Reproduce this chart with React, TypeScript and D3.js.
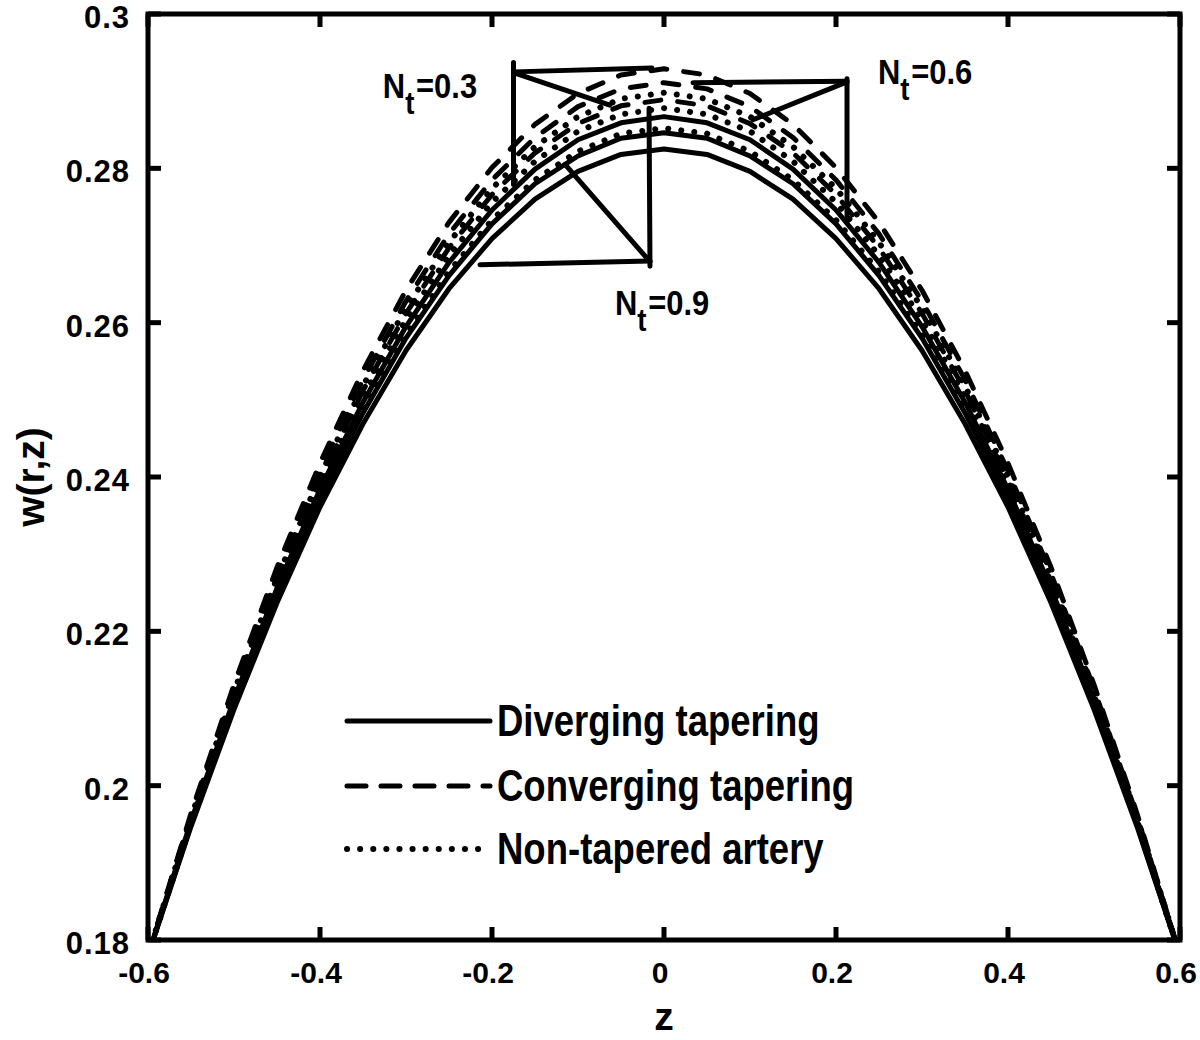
import { useEffect, useRef } from 'react'
import * as d3 from 'd3'

// axial positions of the computed points
const zValues = [
  -0.6, -0.55, -0.5, -0.45, -0.4, -0.35, -0.3, -0.25, -0.2, -0.15, -0.1, -0.05, 0,
  0.05, 0.1, 0.15, 0.2, 0.25, 0.3, 0.35, 0.4, 0.45, 0.5, 0.55, 0.6,
]

// diverging tapering (solid)
const divergingNt09 = [0.178, 0.1947, 0.2099, 0.2237, 0.2361, 0.2469, 0.2564, 0.2644, 0.2709, 0.276, 0.2796, 0.2818, 0.2825, 0.2818, 0.2796, 0.276, 0.2709, 0.2644, 0.2564, 0.2469, 0.2361, 0.2237, 0.2099, 0.1947, 0.178]
const divergingNt06 = [0.178, 0.195, 0.2106, 0.2246, 0.2372, 0.2483, 0.258, 0.2661, 0.2728, 0.278, 0.2816, 0.2839, 0.2846, 0.2839, 0.2816, 0.278, 0.2728, 0.2661, 0.258, 0.2483, 0.2372, 0.2246, 0.2106, 0.195, 0.178]
const divergingNt03 = [0.178, 0.1954, 0.2112, 0.2256, 0.2384, 0.2497, 0.2595, 0.2678, 0.2746, 0.2799, 0.2837, 0.2859, 0.2867, 0.2859, 0.2837, 0.2799, 0.2746, 0.2678, 0.2595, 0.2497, 0.2384, 0.2256, 0.2112, 0.1954, 0.178]

// non-tapered artery (dotted)
const nonTaperedNt09 = [0.178, 0.1951, 0.2108, 0.2249, 0.2376, 0.2487, 0.2584, 0.2666, 0.2733, 0.2785, 0.2822, 0.2845, 0.2852, 0.2845, 0.2822, 0.2785, 0.2733, 0.2666, 0.2584, 0.2487, 0.2376, 0.2249, 0.2108, 0.1951, 0.178]
const nonTaperedNt06 = [0.178, 0.1955, 0.2116, 0.226, 0.239, 0.2504, 0.2604, 0.2687, 0.2756, 0.2809, 0.2848, 0.287, 0.2878, 0.287, 0.2848, 0.2809, 0.2756, 0.2687, 0.2604, 0.2504, 0.239, 0.226, 0.2116, 0.1955, 0.178]
const nonTaperedNt03 = [0.178, 0.1959, 0.2122, 0.2269, 0.2401, 0.2518, 0.2619, 0.2704, 0.2774, 0.2828, 0.2867, 0.289, 0.2898, 0.289, 0.2867, 0.2828, 0.2774, 0.2704, 0.2619, 0.2518, 0.2401, 0.2269, 0.2122, 0.1959, 0.178]

// converging tapering (dashed)
const convergingNt09 = [0.178, 0.1957, 0.2119, 0.2265, 0.2396, 0.2512, 0.2612, 0.2697, 0.2766, 0.282, 0.2858, 0.2881, 0.2889, 0.2881, 0.2858, 0.282, 0.2766, 0.2697, 0.2612, 0.2512, 0.2396, 0.2265, 0.2119, 0.1957, 0.178]
const convergingNt06 = [0.178, 0.1961, 0.2126, 0.2275, 0.2408, 0.2526, 0.2628, 0.2715, 0.2785, 0.284, 0.288, 0.2903, 0.2911, 0.2903, 0.288, 0.284, 0.2785, 0.2715, 0.2628, 0.2526, 0.2408, 0.2275, 0.2126, 0.1961, 0.178]
const convergingNt03 = [0.178, 0.1964, 0.2131, 0.2283, 0.2418, 0.2538, 0.2642, 0.273, 0.2801, 0.2857, 0.2897, 0.2921, 0.2929, 0.2921, 0.2897, 0.2857, 0.2801, 0.273, 0.2642, 0.2538, 0.2418, 0.2283, 0.2131, 0.1964, 0.178]

const xTicks = [-0.6, -0.4, -0.2, 0, 0.2, 0.4, 0.6]
const xTickLabels = ['-0.6', '-0.4', '-0.2', '0', '0.2', '0.4', '0.6']
const yTicks = [0.18, 0.2, 0.22, 0.24, 0.26, 0.28, 0.3]
const yTickLabels = ['0.18', '0.2', '0.22', '0.24', '0.26', '0.28', '0.3']

const legendLabels = ['Diverging tapering', 'Converging tapering', 'Non-tapered artery']

// N_t annotations: label anchor and pointer segments, in (z, w)
const ntLabels = ['0.3', '0.6', '0.9']
const ntAnchors = [[-0.327, 0.2891], [0.2488, 0.2909], [-0.057, 0.261]]
const ntPointers = [
  [[[-0.175, 0.2937], [-0.175, 0.2779]], [[-0.175, 0.2925], [-0.014, 0.293]], [[-0.175, 0.2924], [-0.063, 0.2882]]],
  [[[0.2128, 0.2916], [0.2128, 0.2731]], [[0.0337, 0.2911], [0.2128, 0.2913]], [[0.2128, 0.2912], [0.1035, 0.2863]]],
  [[[-0.214, 0.2675], [-0.0163, 0.268]], [[-0.0163, 0.2673], [-0.0174, 0.2878]], [[-0.0163, 0.2679], [-0.1151, 0.2805]]],
]

const lineStyles: Record<string, string> = {
  solid: '',
  dashed: '16 17',
  dotted: '0.1 13',
}

const seriesList = [
  { values: divergingNt09, kind: 'solid' },
  { values: divergingNt06, kind: 'solid' },
  { values: divergingNt03, kind: 'solid' },
  { values: convergingNt09, kind: 'dashed' },
  { values: convergingNt06, kind: 'dashed' },
  { values: convergingNt03, kind: 'dashed' },
  { values: nonTaperedNt09, kind: 'dotted' },
  { values: nonTaperedNt06, kind: 'dotted' },
  { values: nonTaperedNt03, kind: 'dotted' },
]
const legendKinds = ['solid', 'dashed', 'dotted']

export default function App() {
  const svgRef = useRef<SVGSVGElement>(null)

  useEffect(() => {
    document.body.style.margin = '0'
    if (!svgRef.current) return
    const svg = d3.select(svgRef.current)
    svg.selectAll('*').remove()

    const width = 1200
    const height = 1040
    const left = 148, right = 1180, top = 14, bottom = 940
    const font = "'Liberation Sans', Arial, Helvetica, sans-serif"

    svg.attr('width', width).attr('height', height).attr('viewBox', `0 0 ${width} ${height}`)

    const x = d3.scaleLinear().domain([-0.6, 0.6]).range([left, right])
    const y = d3.scaleLinear().domain([0.18, 0.3]).range([bottom, top])

    svg.append('rect').attr('width', width).attr('height', height).attr('fill', '#fff')

    svg.append('defs').append('clipPath').attr('id', 'plot-clip')
      .append('rect')
      .attr('x', left).attr('y', top)
      .attr('width', right - left).attr('height', bottom - top)

    const line = d3.line<number>()
      .x((_, i) => x(zValues[i]))
      .y(d => y(d))

    const curves = svg.append('g').attr('clip-path', 'url(#plot-clip)')
    seriesList.forEach(s => {
      curves.append('path')
        .datum(s.values)
        .attr('fill', 'none')
        .attr('stroke', '#000')
        .attr('stroke-width', s.kind === 'dotted' ? 6 : 5)
        .attr('stroke-linecap', 'round')
        .attr('stroke-linejoin', 'round')
        .attr('stroke-dasharray', lineStyles[s.kind] || null)
        .attr('d', line)
    })

    // annotation pointers
    const seg = d3.line<number[]>().x(d => x(d[0])).y(d => y(d[1]))
    ntPointers.forEach(group => {
      group.forEach(s => {
        svg.append('path')
          .attr('d', seg(s))
          .attr('fill', 'none')
          .attr('stroke', '#000')
          .attr('stroke-width', 5)
          .attr('stroke-linecap', 'round')
      })
    })

    // labels are condensed horizontally, like the original figure
    ntLabels.forEach((lab, i) => {
      const t = svg.append('text')
        .attr('transform', `translate(${x(ntAnchors[i][0])},${y(ntAnchors[i][1])}) scale(0.86,1)`)
        .attr('font-family', font)
        .attr('font-weight', 'bold')
        .attr('font-size', 36)
        .attr('fill', '#000')
      t.append('tspan').text('N')
      t.append('tspan').attr('dy', 16).attr('font-size', 32).text('t')
      t.append('tspan').attr('dy', -16).attr('dx', 2).text(`=${lab}`)
    })

    // frame
    svg.append('rect')
      .attr('x', left).attr('y', top)
      .attr('width', right - left).attr('height', bottom - top)
      .attr('fill', 'none')
      .attr('stroke', '#000')
      .attr('stroke-width', 5)

    const tickLen = 13
    xTicks.forEach((t, i) => {
      const px = x(t)
      svg.append('line').attr('x1', px).attr('x2', px).attr('y1', bottom).attr('y2', bottom - tickLen)
        .attr('stroke', '#000').attr('stroke-width', 5)
      svg.append('line').attr('x1', px).attr('x2', px).attr('y1', top).attr('y2', top + tickLen)
        .attr('stroke', '#000').attr('stroke-width', 5)
      svg.append('text')
        .attr('x', px - 4).attr('y', 983)
        .attr('text-anchor', 'middle')
        .attr('font-family', font).attr('font-weight', 'bold').attr('font-size', 30)
        .text(xTickLabels[i])
    })
    yTicks.forEach((t, i) => {
      const py = y(t)
      svg.append('line').attr('x1', left).attr('x2', left + tickLen).attr('y1', py).attr('y2', py)
        .attr('stroke', '#000').attr('stroke-width', 5)
      svg.append('line').attr('x1', right).attr('x2', right - tickLen).attr('y1', py).attr('y2', py)
        .attr('stroke', '#000').attr('stroke-width', 5)
      svg.append('text')
        .attr('x', 130).attr('y', py + 14)
        .attr('text-anchor', 'end')
        .attr('font-family', font).attr('font-weight', 'bold').attr('font-size', 31)
        .attr('letter-spacing', 1)
        .text(yTickLabels[i])
    })

    // axis titles
    svg.append('text')
      .attr('x', x(0)).attr('y', 1030)
      .attr('text-anchor', 'middle')
      .attr('font-family', font).attr('font-weight', 'bold').attr('font-size', 39)
      .text('z')
    svg.append('text')
      .attr('transform', `translate(44, ${(top + bottom) / 2}) rotate(-90)`)
      .attr('text-anchor', 'middle')
      .attr('font-family', font).attr('font-weight', 'bold').attr('font-size', 39)
      .text('w(r,z)')

    // legend
    const legendRows = [721, 786, 849]
    legendLabels.forEach((lab, i) => {
      const ly = legendRows[i]
      const kind = legendKinds[i]
      svg.append('line')
        .attr('x1', 347).attr('x2', 490).attr('y1', ly).attr('y2', ly)
        .attr('stroke', '#000')
        .attr('stroke-width', kind === 'dotted' ? 6 : 5)
        .attr('stroke-linecap', 'round')
        .attr('stroke-dasharray', kind === 'dashed' ? '19 15' : kind === 'dotted' ? '0.1 13' : null)
      svg.append('text')
        .attr('transform', `translate(497,${ly + 15}) scale(0.83,1)`)
        .attr('font-family', font).attr('font-weight', 'bold').attr('font-size', 44)
        .text(lab)
    })
  }, [])

  return <svg ref={svgRef} style={{ display: 'block' }} />
}
